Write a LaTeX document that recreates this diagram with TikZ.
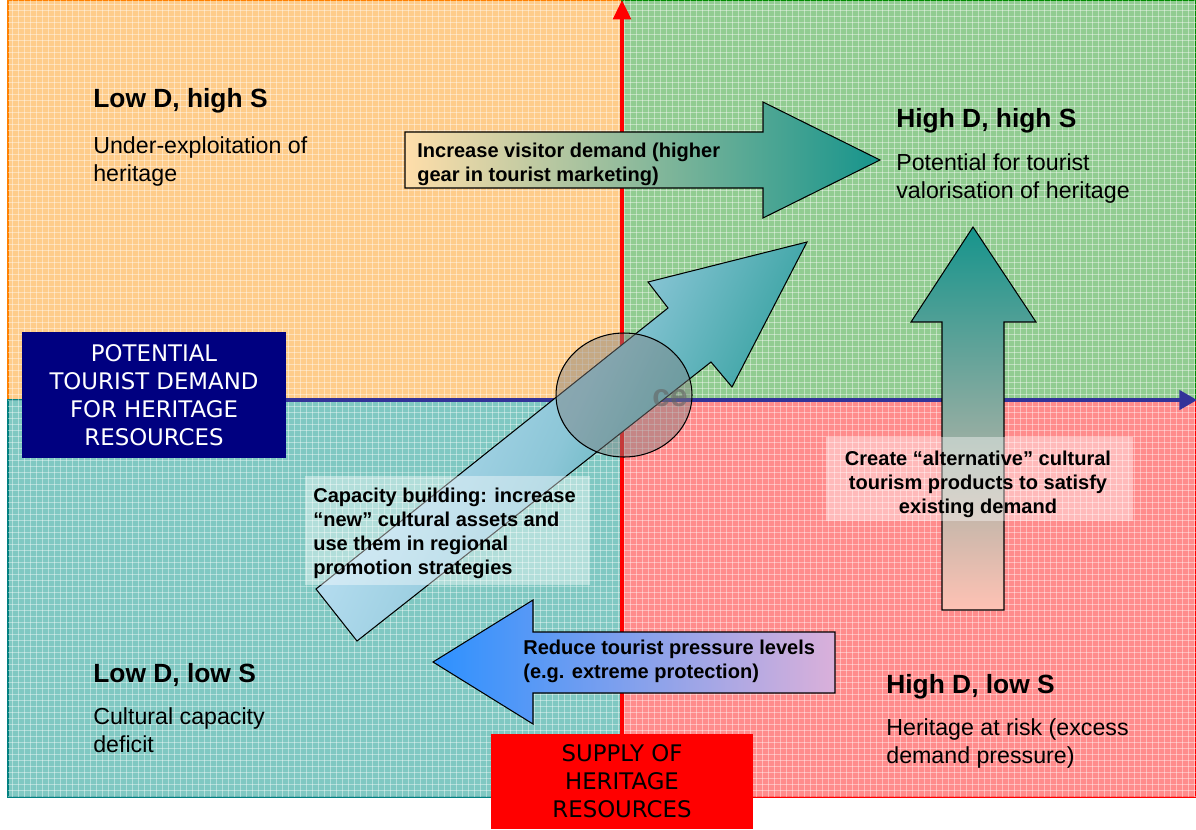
\documentclass[tikz,border=0pt]{standalone}
\usepackage{fontspec}
\setmainfont{Liberation Sans}
\newfontfamily\boxfont{DejaVu Sans}
\usepackage{tikz}
\usetikzlibrary{arrows.meta, positioning, calc, shapes.geometric}
\definecolor{quadorange}{RGB}{254,204,138}
\definecolor{edgeorange}{RGB}{255,128,0}
\definecolor{quadgreen}{RGB}{145,204,145}
\definecolor{edgegreen}{RGB}{0,140,0}
\definecolor{quadteal}{RGB}{128,200,194}
\definecolor{edgeteal}{RGB}{0,128,128}
\definecolor{quadred}{RGB}{255,140,140}
\definecolor{edgered}{RGB}{255,0,0}
\definecolor{peach}{RGB}{255,222,170}
\definecolor{deepteal}{RGB}{22,148,140}
\definecolor{skyblue}{RGB}{198,230,250}
\definecolor{midblue}{RGB}{140,198,215}
\definecolor{salmon}{RGB}{255,194,180}
\definecolor{brightblue}{RGB}{45,145,255}
\definecolor{lilac}{RGB}{218,176,218}
\definecolor{navybox}{RGB}{0,0,128}
\definecolor{axisblue}{RGB}{51,51,153}

\begin{document}
\begin{tikzpicture}[x=0.02cm, y=-0.02cm,
    quadrant/.style 2 args={fill=#1, draw=#2, line width=0.8pt},
    gridline/.style={white, opacity=0.4, line width=0.4pt},
    axisbox/.style={inner sep=0pt, align=center, minimum width=5.27cm, font=\boxfont\fontsize{13}{15.9}\selectfont},
    heading/.style={anchor=north west, inner sep=0pt, font=\fontsize{15}{18}\selectfont\bfseries},
    quadlabel/.style={anchor=north west, inner sep=0pt, align=left, font=\fontsize{13.2}{15.9}\selectfont},
    bigarrow/.style={draw=black, line width=0.6pt},
    arrowlabel/.style={inner sep=0pt, align=left, font=\fontsize{11.4}{13.6}\selectfont\bfseries},
    glow/.style={fill=white, opacity=0.4}]

    \useasboundingbox (0,0) rectangle (1196,829);

    % Quadrants
    \path[quadrant={quadorange}{edgeorange}] (8,0) rectangle (622,400);
    \path[quadrant={quadgreen}{edgegreen}] (622,0) rectangle (1196,400);
    \path[quadrant={quadteal}{edgeteal}] (8,400) rectangle (622,797);
    \path[quadrant={quadred}{edgered}] (622,400) rectangle (1196,797);
    \foreach \gx in {12,18,...,1196}
        \draw[gridline] (\gx,0) -- (\gx,797);
    \foreach \gy in {4,10,...,796}
        \draw[gridline] (8,\gy) -- (1196,\gy);

    % Axis boxes
    \node[axisbox, fill=navybox, text=white, minimum height=2.52cm] (demand) at (154,395)
        {POTENTIAL\\TOURIST DEMAND\\FOR HERITAGE\\RESOURCES};
    \node[axisbox, fill=red, text=black, minimum width=5.24cm, minimum height=1.9cm] (supply) at (622,781.5)
        {SUPPLY OF\\HERITAGE\\RESOURCES};

    % Axes
    \coordinate (origin) at (622,400);
    \coordinate (ytop) at (622,0);
    \coordinate (xend) at (1197,400);
    \draw[red, line width=2.2pt, -{Triangle[length=11pt, width=10pt]}] (supply) -- (ytop);
    \draw[axisblue, line width=1.8pt, -{Triangle[length=10pt, width=11pt]}] (demand.east |- origin) -- (xend);

    % Quadrant texts
    \node[heading] (lowhigh) at (93,88) {Low D, high S};
    \node[quadlabel] (lowhightext) at (93,136) {Under-exploitation of\\heritage};
    \node[heading] (highhigh) at (896,108) {High D, high S};
    \node[quadlabel] (highhightext) at (896,153) {Potential for tourist\\valorisation of heritage};
    \node[heading] (lowlow) at (93,663) {Low D, low S};
    \node[quadlabel] (lowlowtext) at (93,707) {Cultural capacity\\deficit};
    \node[heading] (highlow) at (886,674) {High D, low S};
    \node[quadlabel] (highlowtext) at (886,718) {Heritage at risk (excess\\demand pressure)};

    % Strategy arrows
    \shadedraw[bigarrow, left color=peach, right color=deepteal]
        (405,132) -- (763,132) -- (763,102) -- (880,160) -- (763,218) -- (763,188) -- (405,188) -- cycle;
    \node[arrowlabel, anchor=north west] (demandup) at (417,143)
        {Increase visitor demand (higher\\gear in tourist marketing)};

    \shadedraw[bigarrow, left color=skyblue, right color=deepteal, middle color=midblue, shading angle=65]
        (316,589) -- (668,308) -- (648,282) -- (807,242) -- (732,387) -- (711,362) -- (357,641) -- cycle;
    \fill[glow] (305,476) rectangle (590,585);
    \node[arrowlabel, anchor=north west] (capacity) at (313,488)
        {Capacity building: increase\\“new” cultural assets and\\use them in regional\\promotion strategies};

    \shadedraw[bigarrow, top color=deepteal, bottom color=salmon]
        (942,610) -- (942,322) -- (911,322) -- (973,227) -- (1036,322) -- (1004,322) -- (1004,610) -- cycle;
    \fill[glow] (826,437) rectangle (1133,521);
    \node[arrowlabel, align=center, anchor=north] (alternative) at (978,451)
        {Create “alternative” cultural\\tourism products to satisfy\\existing demand};

    \shadedraw[bigarrow, left color=brightblue, right color=lilac]
        (835,632) -- (533,632) -- (533,600) -- (433,662) -- (533,724) -- (533,693) -- (835,693) -- cycle;
    \node[arrowlabel, anchor=north west] (pressure) at (523,640)
        {Reduce tourist pressure levels\\(e.g. extreme protection)};

    % Overlap zone
    \node[text=gray!60!black, opacity=0.6, font=\fontsize{18}{20}\selectfont\bfseries] (ghost) at (670,398) {ce};
    \node[ellipse, draw, line width=0.6pt, fill=gray, fill opacity=0.45, minimum width=2.72cm, minimum height=2.48cm] (overlap) at (624,395) {};
\end{tikzpicture}
\end{document}
